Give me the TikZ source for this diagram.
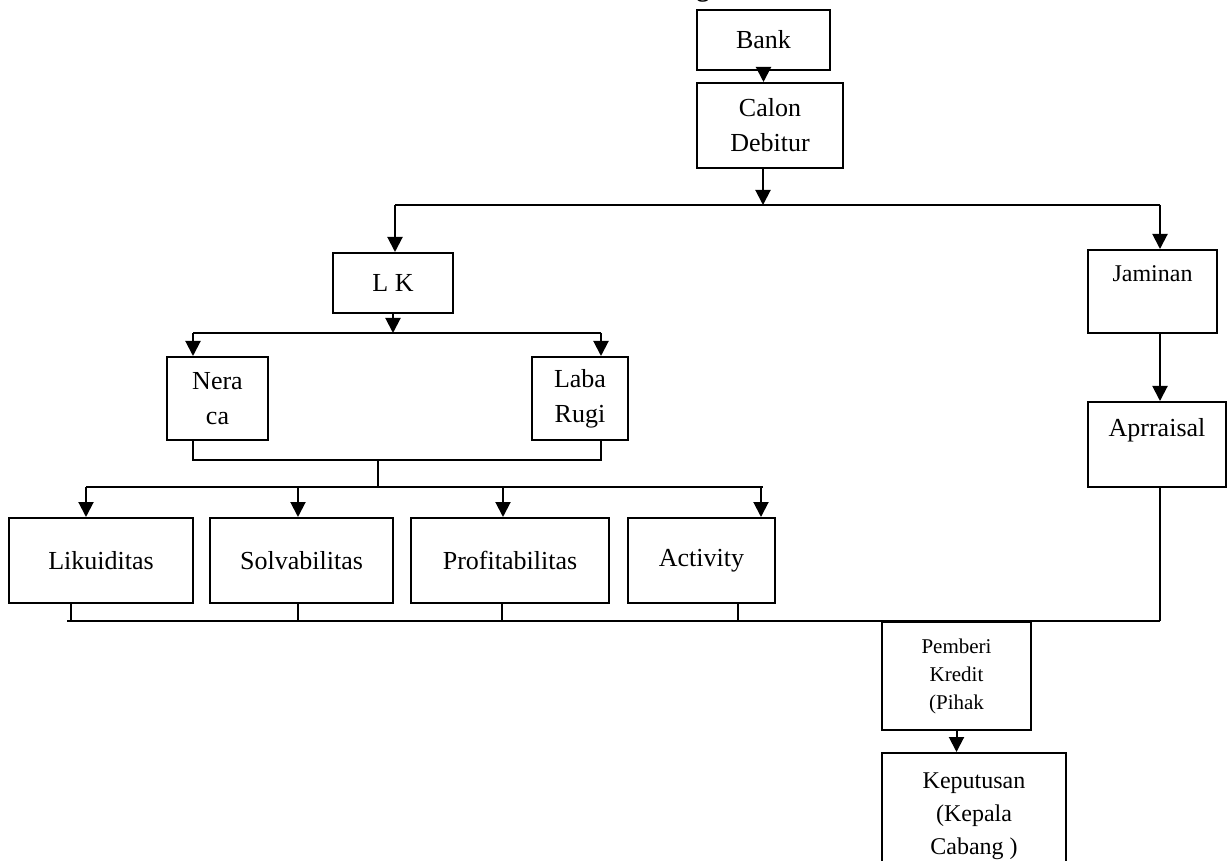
\documentclass[tikz,border=0pt]{standalone}
\usepackage{fontspec}
\setmainfont{Liberation Serif}
\usetikzlibrary{arrows.meta}

\tikzset{
  kotak/.style 2 args={draw,line width=1pt,inner sep=2pt,align=center,
    minimum width=#1*0.5pt,minimum height=#2*0.5pt,
    font=\fontsize{13}{17.5}\selectfont},
  garis/.style={line width=1pt},
  panah/.style={line width=1pt,-{Triangle[width=7.5pt,length=7.5pt]}},
}

\begin{document}
\begin{tikzpicture}[x=0.5pt,y=-0.5pt]
  \useasboundingbox (0,0) rectangle (1227,861);
  \node[font=\bfseries\fontsize{13}{15}\selectfont,anchor=base,inner sep=0pt] (judul) at (703,-3.5) {g};

  \node[kotak={133}{60}] (bank) at (763.5,40) {Bank};
  \node[kotak={146}{85}] (calon) at (770,125.5) {Calon\\Debitur};
  \node[kotak={120}{60}] (lk) at (393,283) {L K};
  \node[kotak={101}{83}] (neraca) at (217.5,398.5) {Nera\\ca};
  \node[kotak={96}{83}] (laba) at (580,398.5) {Laba\\Rugi};
  \node[kotak={184}{85}] (likuid) at (101,560.5) {Likuiditas};
  \node[kotak={183}{85}] (solva) at (301.5,560.5) {Solvabilitas};
  \node[kotak={198}{85}] (profit) at (510,560.5) {Profitabilitas};
  \node[kotak={147}{85}] (activ) at (701.5,560.5) {Activity};
  \node[kotak={129}{83},font=\fontsize{12}{17.5}\selectfont] (jaminan) at (1152.5,291.5) {Jaminan\\\mbox{}};
  \node[kotak={138}{85}] (apprai) at (1157,444.5) {Aprraisal\\\mbox{}};
  \node[kotak={149}{108},font=\fontsize{10.5}{14}\selectfont] (pemberi) at (956.5,676) {Pemberi\\Kredit\\(Pihak};
  \node[kotak={184}{126},font=\fontsize{12}{16.5}\selectfont] (keputusan) at (974,816) {Keputusan\\(Kepala\\Cabang )};

  \coordinate (bus1a) at (395,205);
  \coordinate (bus1b) at (1160,205);
  \coordinate (bus2a) at (193,333);
  \coordinate (bus2b) at (601,333);
  \coordinate (gab) at (378,460);
  \coordinate (bus3a) at (86,487);
  \coordinate (bus3b) at (763,487);
  \coordinate (bus4a) at (67,621);
  \coordinate (bus4b) at (1160,621);

  \draw[panah] (bank.south) -- (bank.south |- calon.north);
  \draw[panah] ([xshift=-3.5pt]calon.south) -- ([xshift=-3.5pt]calon.south |- bus1a);
  \draw[garis] (bus1a) -- (bus1b);
  \draw[panah] (bus1a) -- (bus1a |- lk.north);
  \draw[panah] (bus1b) -- (bus1b |- jaminan.north);

  \draw[panah] (lk.south) -- (lk.south |- bus2a);
  \draw[garis] (bus2a) -- (bus2b);
  \draw[panah] (bus2a) -- (bus2a |- neraca.north);
  \draw[panah] (bus2b) -- (bus2b |- laba.north);
  \draw[garis] (bus2a |- neraca.south) -- (bus2a |- gab) -- (bus2b |- gab) -- (bus2b |- laba.south);
  \draw[garis] (gab) -- (gab |- bus3a);

  \draw[garis] (bus3a) -- (bus3b);
  \foreach \n/\x in {likuid/86,solva/298,profit/503,activ/761}{
    \coordinate (t\n) at (\x,487);
    \draw[panah] (t\n) -- (t\n |- \n.north);
  }
  \foreach \n/\x in {likuid/71,solva/298,profit/502,activ/738}{
    \coordinate (b\n) at (\x,621);
    \draw[garis] (b\n |- \n.south) -- (b\n);
  }
  \draw[garis] (bus4a) -- (bus4b);

  \draw[panah] (bus1b |- jaminan.south) -- (bus1b |- apprai.north);
  \draw[garis] (bus4b |- apprai.south) -- (bus4b);
  \draw[panah] (pemberi.south) -- (pemberi.south |- keputusan.north);
\end{tikzpicture}
\end{document}
